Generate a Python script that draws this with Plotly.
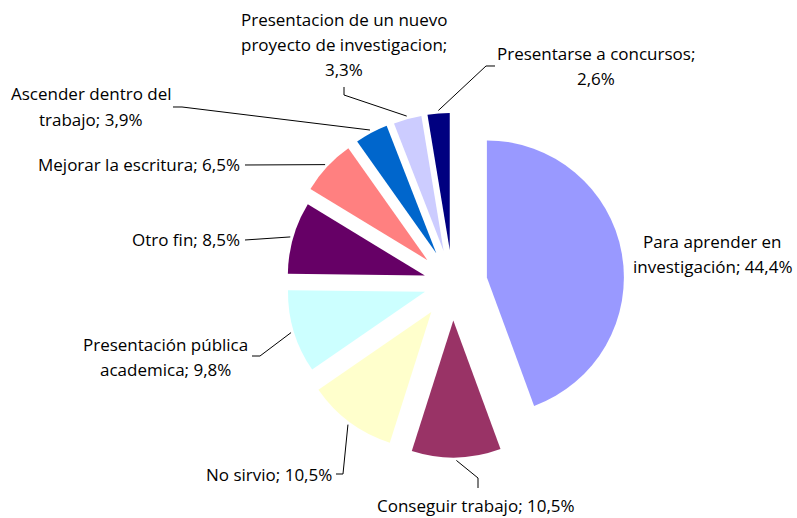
import math
import plotly.graph_objects as go

W, H = 797, 518

# ── datos ────────────────────────────────────────────────────────────────────
categorias = [
    "Para aprender en investigación",
    "Conseguir trabajo",
    "No sirvio",
    "Presentación pública academica",
    "Otro fin",
    "Mejorar la escritura",
    "Ascender dentro del trabajo",
    "Presentacion de un nuevo proyecto de investigacion",
    "Presentarse a concursos",
]
porcentajes = [44.4, 10.5, 10.5, 9.8, 8.5, 6.5, 3.9, 3.3, 2.6]
colores = ["#9999FF", "#993366", "#FFFFCC", "#CCFFFF", "#660066",
           "#FF8080", "#0066CC", "#CCCCFF", "#000080"]

# texto de cada etiqueta, linea por linea ({} = valor)
etiquetas = [
    ["Para aprender en", "investigación; {}"],
    ["Conseguir trabajo; {}"],
    ["No sirvio; {}"],
    ["Presentación pública", "academica; {}"],
    ["Otro fin; {}"],
    ["Mejorar la escritura; {}"],
    ["Ascender dentro del", "trabajo; {}"],
    ["Presentacion de un nuevo", "proyecto de investigacion;", "{}"],
    ["Presentarse a concursos;", "{}"],
]

# ── geometria (pixeles) ──────────────────────────────────────────────────────
CX, CY, R = 452.5, 283.5, 137
PULLS = [0.255, 0.27, 0.26, 0.21, 0.21, 0.25, 0.25, 0.245, 0.245]
FONT = dict(family="Open Sans, Calibri, sans-serif", size=17, color="#000000")
LINE_H = 25.5

# posicion de etiqueta: (x, y primera linea, xanchor)
pos_etiqueta = [
    (712, 241, "center"),
    (476, 505, "center"),
    (334, 474, "right"),
    (165, 344, "center"),
    (242, 240, "right"),
    (242, 165, "right"),
    (91, 94, "center"),
    (344, 19, "center"),
    (596, 53, "center"),
]
# quiebres de las lineas guia (desde el sector hacia el texto)
guias = [
    None,
    [(478, 478), (478, 488)],
    [(343, 474), (336, 474)],
    [(260, 356), (252, 356)],
    [(245, 240)],
    [(245, 165)],
    [(182, 107), (173, 107)],
    [(344, 95), (344, 87)],
    [(486, 66), (495, 66)],
]


def px(x):
    return x / W


def py(y):
    return 1 - y / H


half = R * (1 + max(PULLS))
fig = go.Figure(go.Pie(
    labels=categorias,
    values=porcentajes,
    marker=dict(colors=colores, line=dict(width=0)),
    pull=PULLS,
    sort=False,
    direction="clockwise",
    rotation=0,
    textinfo="none",
    hoverinfo="label+percent",
    domain=dict(x=[px(CX - half), px(CX + half)], y=[py(CY + half), py(CY - half)]),
))

total = sum(porcentajes)
acum = 0
anotaciones, formas = [], []
for i, v in enumerate(porcentajes):
    theta = 2 * math.pi * (acum + v / 2) / total
    acum += v
    valor = f"{v:.1f}".replace(".", ",") + "%"
    x0, y0, xa = pos_etiqueta[i]
    for k, linea in enumerate(etiquetas[i]):
        anotaciones.append(dict(
            x=px(x0), y=py(y0 + k * LINE_H), xref="paper", yref="paper",
            text=linea.format(valor), showarrow=False,
            xanchor=xa, yanchor="middle", font=FONT,
        ))
    if guias[i]:
        dist = R * (1 + PULLS[i]) + 3
        pts = [(CX + dist * math.sin(theta), CY - dist * math.cos(theta))] + guias[i]
        path = "M " + " L ".join(f"{px(a):.5f},{py(b):.5f}" for a, b in pts)
        formas.append(dict(type="path", path=path, xref="paper", yref="paper",
                           line=dict(color="#000000", width=1)))

fig.update_layout(
    width=W, height=H,
    margin=dict(l=0, r=0, t=0, b=0),
    paper_bgcolor="white",
    plot_bgcolor="white",
    showlegend=False,
    annotations=anotaciones,
    shapes=formas,
)
# sin margen del body para que la figura ocupe la ventana exacta
fig.write_html("out.html", config={"displayModeBar": False},
               post_script="document.body.style.margin='0';")
